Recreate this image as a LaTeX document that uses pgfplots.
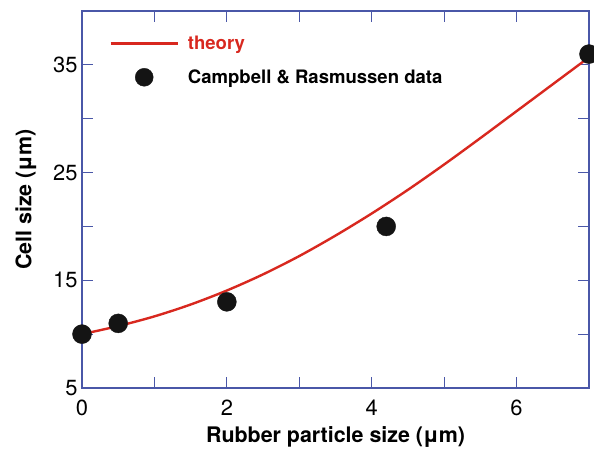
\documentclass[border=0pt]{standalone}
\usepackage{pgfplots}
\pgfplotsset{compat=1.18}
\usepackage{fontspec}
\setmainfont{TeX Gyre Heros}
\definecolor{axisblue}{HTML}{4A57A8}
\definecolor{theoryred}{HTML}{D8281F}
\begin{document}
\begin{tikzpicture}[x=1bp,y=1bp]
\begin{axis}[
  scale only axis,
  width=507bp, height=377bp,
  xmin=0, xmax=7, ymin=5, ymax=40,
  axis line style={axisblue, line width=1.3bp},
  every tick/.style={axisblue, line width=1.1bp},
  major tick length=11bp,
  tick align=inside,
  xtick={0,1,...,7}, xticklabels={0,,2,,4,,6,},
  ytick={5,10,...,40}, yticklabels={5,,15,,25,,35,,},
  /pgf/number format/assume math mode=true,
  tick label style={font=\fontsize{22}{22}\selectfont},
  xticklabel style={yshift=-8bp},
  yticklabel style={xshift=-1bp},
  xlabel={\bfseries Rubber particle size (μm)},
  ylabel={\bfseries Cell size (μm)},
  label style={font=\fontsize{21.5}{22}\selectfont},
  xlabel style={yshift=-4bp},
  ylabel style={yshift=10bp},
  legend style={draw=none, fill=none, at={(rel axis cs:0.048,0.942)}, anchor=north west,
    font=\fontsize{18.6}{19}\selectfont\bfseries, row sep=16bp,
    nodes={inner sep=1bp}},
  legend cell align=left,
]
% theoretical prediction
\addplot[theoryred, line width=2.4bp, smooth,
  legend image code/.code={\draw[theoryred, line width=2.4bp] (0bp,0bp) -- (67bp,0bp);}]
  coordinates {
  (0,10.00) (0.5,10.75) (1,11.65) (1.5,12.75) (2,14.05) (2.5,15.55)
  (3,17.25) (3.5,19.15) (4,21.20) (4.5,23.40) (5,25.75) (5.5,28.20)
  (6,30.70) (6.5,33.20) (7,35.70)};
\addlegendentry{\hspace{8bp}\textcolor{theoryred}{theory}}
% measured cell sizes
\addplot[only marks, mark=*, mark size=9.5bp, color=black!92,
  legend image code/.code={\fill[black!92] (33.5bp,0bp) circle (9bp);}]
  coordinates {(0,10) (0.5,11) (2,13) (4.2,20) (7,36)};
\addlegendentry{\hspace{8bp}Campbell \& Rasmussen data}
\end{axis}
\pgfresetboundingbox
\useasboundingbox (-82bp,-62bp) rectangle (512bp,388bp);
\end{tikzpicture}
\end{document}
